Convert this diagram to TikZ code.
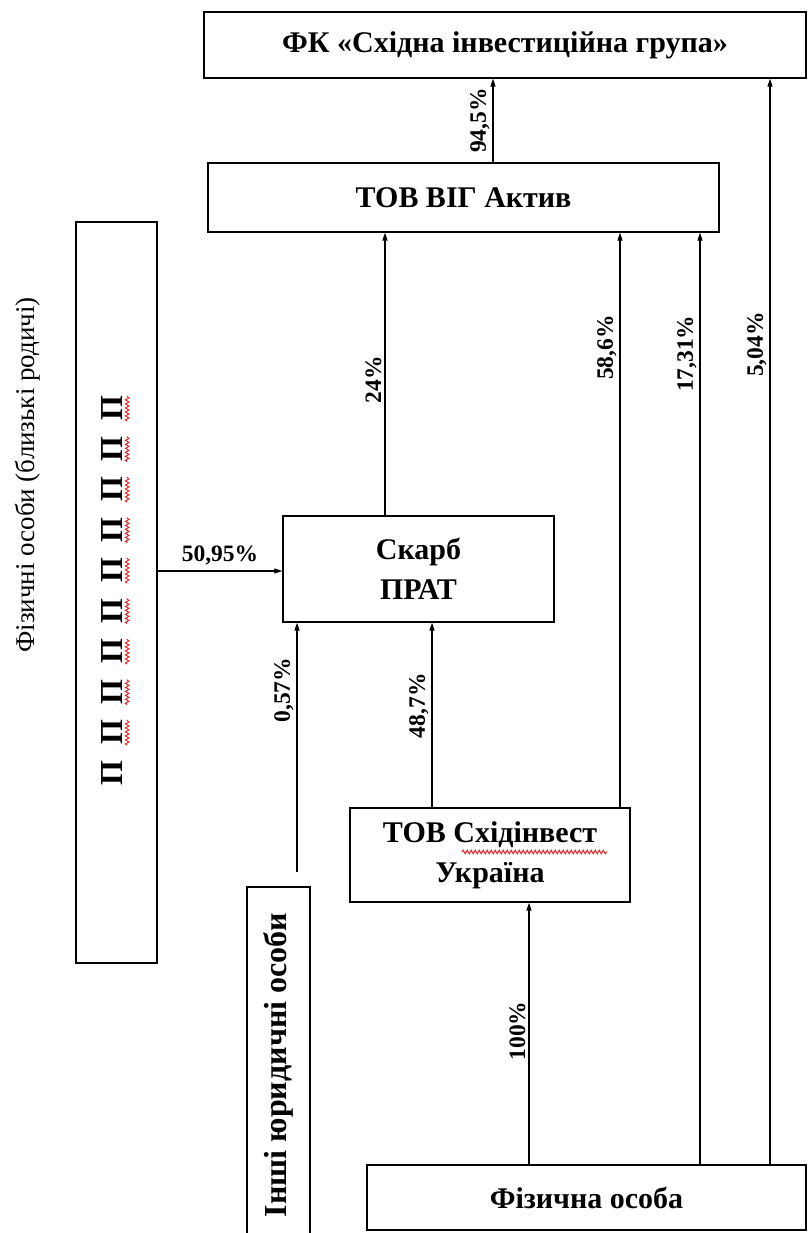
\documentclass[tikz,border=0pt]{standalone}
\usepackage{fontspec}
\setmainfont{Liberation Serif}
\usetikzlibrary{arrows.meta,calc,decorations.pathmorphing}
\definecolor{Ink}{HTML}{000000}
\definecolor{Spell}{HTML}{E02828}

\begin{document}
\begin{tikzpicture}[x=1pt,y=-1pt,
  box/.style={draw=Ink,line width=1.3pt,inner sep=0pt,align=center,font=\bfseries\fontsize{30}{40}\selectfont},
  arr/.style={Ink,line width=1.1pt,-{Triangle[length=8pt,width=5pt]}},
  pct/.style={font=\bfseries\fontsize{23.5}{23.5}\selectfont,rotate=90,above,inner sep=3pt},
  pglyph/.style={font=\bfseries\fontsize{32}{32}\selectfont,rotate=90,inner xsep=0pt,inner ysep=4.5pt},
  wavy/.style={Spell,line width=1pt,decorate,decoration={snake,amplitude=1.8pt,segment length=4pt}}]
  \useasboundingbox (0,0) rectangle (807,1233);
  % columns of the connectors
  \coordinate (k1) at (493,0);
  \coordinate (k2) at (385,0);
  \coordinate (k3) at (620,0);
  \coordinate (k4) at (700,0);
  \coordinate (k5) at (770,0);
  \coordinate (k6) at (297,0);
  \coordinate (k7) at (432,0);
  \coordinate (k8) at (529,0);
  \coordinate (r1) at (0,571);
  % boxes
  \node[box,minimum width=602pt,minimum height=66pt] (fk) at (505,45) {ФК «Східна інвестиційна група»};
  \node[box,minimum width=511pt,minimum height=69pt] (vig) at (463.5,197.5) {ТОВ ВІГ Актив};
  \node[box,minimum width=271pt,minimum height=106pt] (skarb) at (418.5,569) {Скарб\\ПРАТ};
  \node[box,minimum width=280pt,minimum height=94pt] (shid) at (490,855) {ТОВ Східінвест\\Україна};
  \node[box,minimum width=439pt,minimum height=65pt] (fiz) at (586.5,1197.5) {Фізична особа};
  \node[box,rotate=90,minimum width=356pt,minimum height=63pt,font=\bfseries\fontsize{32}{32}\selectfont] (inshi) at (278.5,1065) {Інші юридичні особи};
  \node[box,rotate=90,minimum width=741pt,minimum height=81pt] (pp) at (116.5,592.5) {};
  \node[rotate=90,font=\fontsize{27}{27}\selectfont] (fo) at (28,475) {Фізичні особи (близькі родичі)};
  % relatives
  \foreach \i in {1,...,10}
    \node[pglyph] (p\i) at (112,{773-40.5*(\i-1)}) {П};
  \foreach \i in {2,...,10}
    \draw[wavy] (p\i.south west) -- (p\i.south east);
  \draw[wavy] ($(shid.center)+(-28,-3)$) -- ($(shid.center)+(117,-3)$);
  % connectors
  \coordinate (i0) at ($(k6 |- inshi.east)+(0,-14)$);
  \draw[arr] (k1 |- vig.north) -- (k1 |- fk.south) node[pct,midway] {94,5\%};
  \draw[arr] (k2 |- skarb.north) -- (k2 |- vig.south) node[pct,pos=.48] {24\%};
  \draw[arr] (k3 |- shid.north) -- (k3 |- vig.south) node[pct,pos=.8] {58,6\%};
  \draw[arr] (k4 |- fiz.north) -- (k4 |- vig.south) node[pct,pos=.87] {17,31\%};
  \draw[arr] (k5 |- fiz.north) -- (k5 |- fk.south) node[pct,pos=.755] {5,04\%};
  \draw[arr] (pp.south |- r1) -- (skarb.west |- r1) node[midway,above,inner sep=5pt,font=\bfseries\fontsize{23.5}{23.5}\selectfont] {50,95\%};
  \draw[arr] (i0) -- (k6 |- skarb.south) node[pct,pos=.73] {0,57\%};
  \draw[arr] (k7 |- shid.north) -- (k7 |- skarb.south) node[pct,pos=.55] {48,7\%};
  \draw[arr] (k8 |- fiz.north) -- (k8 |- shid.south) node[pct,pos=.51] {100\%};
\end{tikzpicture}
\end{document}
